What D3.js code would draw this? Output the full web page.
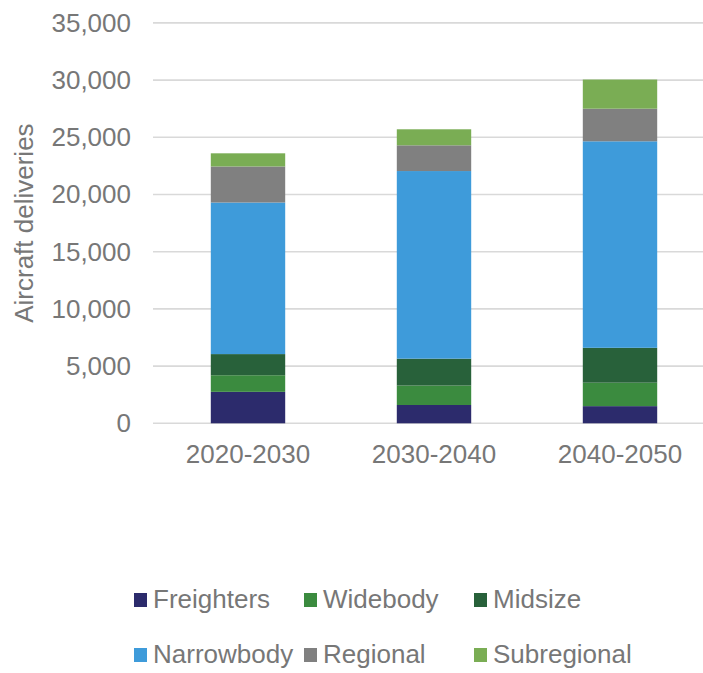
<!DOCTYPE html>
<html>
<head>
<meta charset="utf-8">
<script src="https://cdn.jsdelivr.net/npm/d3@7"></script>
<style>
  html, body { margin: 0; padding: 0; background: #ffffff; }
  svg { display: block; font-family: "Liberation Sans", Arial, sans-serif; }
</style>
</head>
<body>
<div id="chart"></div>
<script>
// Aircraft deliveries per decade, stacked by aircraft class
const periods = ["2020-2030", "2030-2040", "2040-2050"];
const seriesNames = ["Freighters", "Widebody", "Midsize", "Narrowbody", "Regional", "Subregional"];
const freighters  = [2750, 1600, 1500];
const widebody    = [1450, 1700, 2050];
const midsize     = [1850, 2350, 3050];
const narrowbody  = [13250, 16400, 18050];
const regional    = [3150, 2250, 2850];
const subregional = [1150, 1400, 2550];
const yTicks = [0, 5000, 10000, 15000, 20000, 25000, 30000, 35000];
const colors = ["#2c2b6c", "#3b8b3f", "#28613a", "#3e9bda", "#808080", "#7aad54"];

const seriesValues = [freighters, widebody, midsize, narrowbody, regional, subregional];
const rows = periods.map((p, i) => {
  const r = { period: p };
  seriesNames.forEach((s, k) => { r[s] = seriesValues[k][i]; });
  return r;
});

const W = 703, H = 673;
const svg = d3.select("#chart").append("svg").attr("width", W).attr("height", H);

const y = d3.scaleLinear().domain([0, 35000]).range([423.3, 22.9]);
const x = d3.scaleBand().domain(periods).range([155, 713]).paddingInner(0.6).paddingOuter(0.3);
const color = d3.scaleOrdinal().domain(seriesNames).range(colors);

const textColor = "#777777";
const fontSize = 26;

// horizontal gridlines
svg.append("g")
  .selectAll("line")
  .data(yTicks)
  .join("line")
  .attr("x1", 153).attr("x2", W)
  .attr("y1", d => y(d)).attr("y2", d => y(d))
  .attr("stroke", "#d9d9d9")
  .attr("stroke-width", 1.6);

// y axis labels
const yAxis = d3.axisLeft(y).tickValues(yTicks).tickFormat(d3.format(",")).tickSize(0).tickPadding(0);
const gy = svg.append("g").attr("transform", "translate(131,0)").call(yAxis);
gy.select(".domain").remove();
gy.selectAll("text")
  .attr("fill", textColor)
  .attr("font-size", fontSize)
  .attr("font-family", "Liberation Sans, Arial, sans-serif");

// y axis title
svg.append("text")
  .attr("transform", `translate(33,${(y(0) + y(35000)) / 2}) rotate(-90)`)
  .attr("text-anchor", "middle")
  .attr("fill", textColor)
  .attr("font-size", fontSize)
  .text("Aircraft deliveries");

// stacked bars
const stack = d3.stack().keys(seriesNames);
const layers = stack(rows);
svg.append("g")
  .selectAll("g")
  .data(layers)
  .join("g")
  .attr("fill", d => color(d.key))
  .selectAll("rect")
  .data(d => d)
  .join("rect")
  .attr("x", d => x(d.data.period))
  .attr("width", x.bandwidth())
  .attr("y", d => y(d[1]))
  .attr("height", d => y(d[0]) - y(d[1]));

// x axis labels
const xAxis = d3.axisBottom(x).tickSize(0).tickPadding(0);
const gx = svg.append("g").attr("transform", "translate(0,463)").call(xAxis);
gx.select(".domain").remove();
gx.selectAll("text")
  .attr("dy", 0)
  .attr("fill", textColor)
  .attr("font-size", fontSize)
  .attr("font-family", "Liberation Sans, Arial, sans-serif");

// legend: two rows of three
const legendCols = [134, 304, 474];
const legendRows = [608, 663];
const legend = svg.append("g")
  .selectAll("g")
  .data(seriesNames)
  .join("g")
  .attr("transform", (d, i) => `translate(${legendCols[i % 3]},${legendRows[Math.floor(i / 3)]})`);
legend.append("rect")
  .attr("x", 0).attr("y", -15)
  .attr("width", 13).attr("height", 14)
  .attr("fill", d => color(d));
legend.append("text")
  .attr("x", 19).attr("y", 0)
  .attr("fill", textColor)
  .attr("font-size", fontSize)
  .text(d => d);
</script>
</body>
</html>
